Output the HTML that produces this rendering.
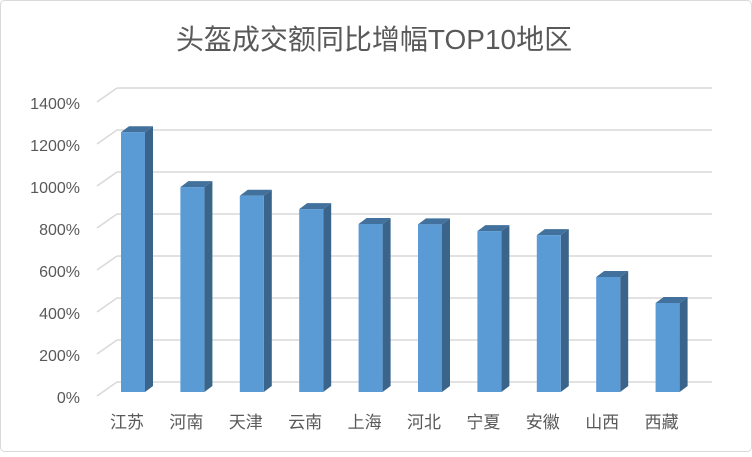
<!DOCTYPE html>
<html><head><meta charset="utf-8"><style>
body{margin:0;background:#fff}
svg text{font-family:"Liberation Sans","Noto Sans CJK SC",sans-serif;fill:#595959}
</style></head><body>
<svg width="752" height="452" viewBox="0 0 752 452" xmlns="http://www.w3.org/2000/svg">
<rect x="0.5" y="0.5" width="751" height="451" rx="4" fill="#fff" stroke="#d9d9d9"/>
<text x="374" y="49" font-size="28" text-anchor="middle">头盔成交额同比增幅TOP10地区</text>
<g stroke="#d9d9d9" stroke-width="1.5" fill="none">
<path d="M117 88H712M117 130H712M117 172H712M117 214H712M117 256H712M117 298H712M117 340H712M117 382H712"/>
<path d="M97 102L117 88M97 144L117 130M97 186L117 172M97 228L117 214M97 270L117 256M97 312L117 298M97 354L117 340M97 396L117 382"/>
</g>
<g font-size="16" text-anchor="end">
<text x="80" y="109">1400%</text><text x="80" y="151">1200%</text><text x="80" y="193">1000%</text><text x="80" y="235">800%</text><text x="80" y="277">600%</text><text x="80" y="319">400%</text><text x="80" y="361">200%</text><text x="80" y="403">0%</text>
</g>
<g transform="translate(121,0)"><polygon points="24,132.2 32,126.2 32,386 24,392" fill="#3a6489"/><polygon points="0,132.2 8,126.2 32,126.2 24,132.2" fill="#41719c"/><rect x="0" y="132.2" width="24" height="259.8" fill="#5b9bd5"/></g>
<g transform="translate(180.4,0)"><polygon points="24,187.1 32,181.1 32,386 24,392" fill="#3a6489"/><polygon points="0,187.1 8,181.1 32,181.1 24,187.1" fill="#41719c"/><rect x="0" y="187.1" width="24" height="204.9" fill="#5b9bd5"/></g>
<g transform="translate(239.8,0)"><polygon points="24,195.7 32,189.7 32,386 24,392" fill="#3a6489"/><polygon points="0,195.7 8,189.7 32,189.7 24,195.7" fill="#41719c"/><rect x="0" y="195.7" width="24" height="196.3" fill="#5b9bd5"/></g>
<g transform="translate(299.2,0)"><polygon points="24,209.1 32,203.1 32,386 24,392" fill="#3a6489"/><polygon points="0,209.1 8,203.1 32,203.1 24,209.1" fill="#41719c"/><rect x="0" y="209.1" width="24" height="182.9" fill="#5b9bd5"/></g>
<g transform="translate(358.6,0)"><polygon points="24,224 32,218 32,386 24,392" fill="#3a6489"/><polygon points="0,224 8,218 32,218 24,224" fill="#41719c"/><rect x="0" y="224" width="24" height="168" fill="#5b9bd5"/></g>
<g transform="translate(418,0)"><polygon points="24,224.4 32,218.4 32,386 24,392" fill="#3a6489"/><polygon points="0,224.4 8,218.4 32,218.4 24,224.4" fill="#41719c"/><rect x="0" y="224.4" width="24" height="167.6" fill="#5b9bd5"/></g>
<g transform="translate(477.4,0)"><polygon points="24,231.1 32,225.1 32,386 24,392" fill="#3a6489"/><polygon points="0,231.1 8,225.1 32,225.1 24,231.1" fill="#41719c"/><rect x="0" y="231.1" width="24" height="160.9" fill="#5b9bd5"/></g>
<g transform="translate(536.8,0)"><polygon points="24,235.1 32,229.1 32,386 24,392" fill="#3a6489"/><polygon points="0,235.1 8,229.1 32,229.1 24,235.1" fill="#41719c"/><rect x="0" y="235.1" width="24" height="156.9" fill="#5b9bd5"/></g>
<g transform="translate(596.2,0)"><polygon points="24,277 32,271 32,386 24,392" fill="#3a6489"/><polygon points="0,277 8,271 32,271 24,277" fill="#41719c"/><rect x="0" y="277" width="24" height="115" fill="#5b9bd5"/></g>
<g transform="translate(655.6,0)"><polygon points="24,303 32,297 32,386 24,392" fill="#3a6489"/><polygon points="0,303 8,297 32,297 24,303" fill="#41719c"/><rect x="0" y="303" width="24" height="89" fill="#5b9bd5"/></g>
<g font-size="17" text-anchor="middle">
<text x="127" y="428">江苏</text><text x="186.4" y="428">河南</text><text x="245.8" y="428">天津</text><text x="305.2" y="428">云南</text><text x="364.6" y="428">上海</text><text x="424" y="428">河北</text><text x="483.4" y="428">宁夏</text><text x="542.8" y="428">安徽</text><text x="602.2" y="428">山西</text><text x="661.6" y="428">西藏</text>
</g>
</svg>
</body></html>
